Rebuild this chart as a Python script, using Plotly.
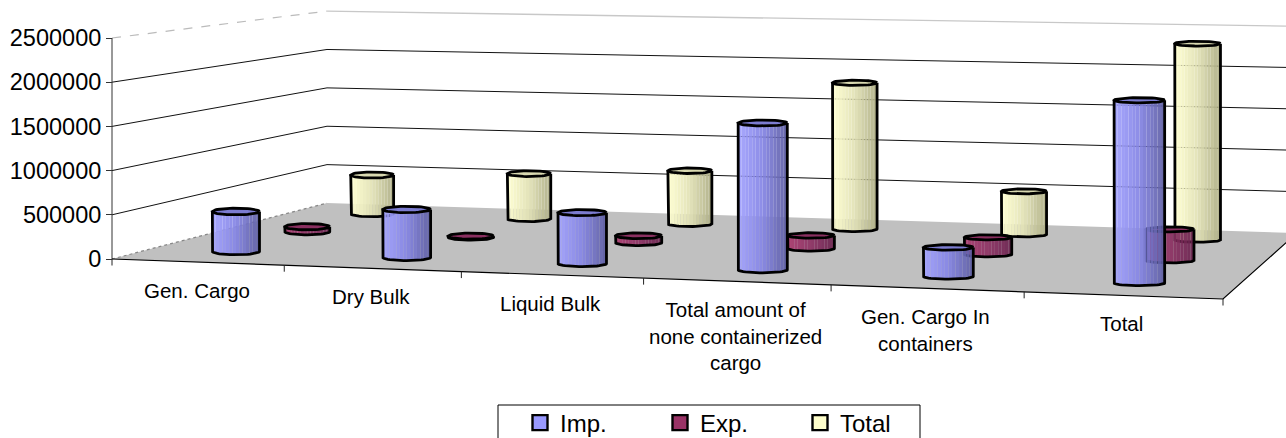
import numpy as np
import plotly.graph_objects as go

categories = ["Gen. Cargo", "Dry Bulk", "Liquid Bulk",
              "Total amount of<br>none containerized<br>cargo",
              "Gen. Cargo In<br>containers", "Total"]
imp_values = [460000, 545000, 571000, 1624000, 316000, 1964000]
exp_values = [60000, 12000, 82000, 151000, 195000, 351000]
total_values = [490000, 563000, 655000, 1783000, 518000, 2332000]
y_ticks = [0, 500000, 1000000, 1500000, 2000000, 2500000]

W, H = 1286, 438
# perspective of the chart box: pixel corners of the floor and wall height
X00, Y00 = 112, 259
X10, Y10 = 1223, 299
X01, Y01 = 327, 203
X11, Y11 = 1297, 233
AXIS_PX = 221
ZMAX = 2500000
S = ZMAX / AXIS_PX

dx1, dx2, sx = X10 - X11, X01 - X11, X00 - X10 + X11 - X01
dy1, dy2, sy = Y10 - Y11, Y01 - Y11, Y00 - Y10 + Y11 - Y01
det = dx1 * dy2 - dx2 * dy1
G = (sx * dy2 - dx2 * sy) / det
K = (dx1 * sy - sx * dy1) / det


def project(u, v, z=0.0):
    w = 1 + G * u + K * v
    xn = X00 + (X10 * (1 + G) - X00) * u + (X01 * (1 + K) - X00) * v
    yn = Y00 + (Y10 * (1 + G) - Y00) * u + (Y01 * (1 + K) - Y00) * v
    return xn / w, (Y00 - yn / w) * S + z / w, w


def line(points, color="#000000", width=1.0, dash="solid"):
    xs, ys = [], []
    for p in points:
        if p is None:
            xs.append(None); ys.append(None)
        else:
            a, b, _ = project(*p)
            xs.append(a); ys.append(b)
    return go.Scatter(x=xs, y=ys, mode="lines", showlegend=False, hoverinfo="skip",
                      line=dict(color=color, width=width, dash=dash))


fig = go.Figure()

# floor
fx, fy = zip(*[project(*c)[:2] for c in [(0, 0), (1, 0), (1, 1), (0, 1), (0, 0)]])
fig.add_trace(go.Scatter(x=fx, y=fy, mode="lines", fill="toself", fillcolor="#C0C0C0",
                         line=dict(width=0), showlegend=False, hoverinfo="skip"))
# wall gridlines
for t in y_ticks[1:-1]:
    fig.add_trace(line([(0, 0, t), (0, 1, t), (1, 1, t)], "#111111", 1.0))
fig.add_trace(line([(0, 0, ZMAX), (0, 1, ZMAX)], "#BBBBBB", 1.2, "dash"))
fig.add_trace(line([(0, 1, ZMAX), (1, 1, ZMAX)], "#C8C8C8", 1.4))
fig.add_trace(line([(0, 0), (0, 1)], "#888888", 1.2, "dot"))
fig.add_trace(line([(0, 0), (0, 0, ZMAX)], "#333333", 1.0))
fig.add_trace(line([(0, 0), (1, 0), (1, 1)], "#000000", 1.2))

# category ticks on the front edge
tx, ty = [], []
for i in range(len(categories) + 1):
    a, b, _ = project(i / len(categories), 0)
    tx += [a, a, None]
    ty += [b, b - 6.5 * S, None]
fig.add_trace(go.Scatter(x=tx, y=ty, mode="lines", showlegend=False, hoverinfo="skip",
                         line=dict(color="#222222", width=1)))

RAMPS = {
    "Imp.": ((162, 162, 255), (132, 132, 228), (92, 92, 160)),
    "Exp.": ((170, 58, 110), (140, 48, 98), (105, 34, 78)),
    "Total": ((255, 255, 208), (225, 225, 180), (172, 172, 132)),
}
CAPS = {"Imp.": "#7C7CD0", "Exp.": "#8A2F60", "Total": "#D8D8B0"}
BASE = {"Imp.": "#9999FF", "Exp.": "#993366", "Total": "#FFFFCC"}
ALPHA = 0.93
BANDS = 14
A_PX, B_PX = 24.0, 3.0


def band_color(name, t):
    c0, c1, c2 = RAMPS[name]
    if t < 0.5:
        c = [c0[k] + (c1[k] - c0[k]) * t * 2 for k in range(3)]
    else:
        c = [c1[k] + (c2[k] - c1[k]) * (t - 0.5) * 2 for k in range(3)]
    return f"rgba({c[0]:.0f},{c[1]:.0f},{c[2]:.0f},{ALPHA})"


def add_series(name, values, depth):
    v = (depth + 0.5) / 3
    n = len(values)
    cyl = []
    for i, val in enumerate(values):
        u = (i + 0.5) / n
        cx, yb, w = project(u, v, 0)
        cyl.append((cx, yb, yb + val / w, A_PX / w, B_PX * (1.15 - 0.35 * u) / w * S))
    # shaded strips
    for j in range(BANDS):
        t0, t1 = -1 + 2 * j / BANDS, -1 + 2 * (j + 1) / BANDS
        xs, ys = [], []
        for cx, yb, yt, a, b in cyl:
            arc0, arc1 = b * np.sqrt(max(1 - t0 ** 2, 0)), b * np.sqrt(max(1 - t1 ** 2, 0))
            xs += [cx + a * t0, cx + a * t1, cx + a * t1, cx + a * t0, cx + a * t0, None]
            ys += [yt - arc0, yt - arc1, yb - arc1, yb - arc0, yt - arc0, None]
        fig.add_trace(go.Scatter(x=xs, y=ys, mode="lines", fill="toself",
                                 fillcolor=band_color(name, (j + 0.5) / BANDS),
                                 line=dict(width=0), showlegend=False, hoverinfo="skip"))
    # cap and outline
    th = np.linspace(0, 2 * np.pi, 49)
    capx, capy, ox, oy = [], [], [], []
    for cx, yb, yt, a, b in cyl:
        ex, ey = cx + a * np.cos(th), b * np.sin(th)
        capx += list(ex) + [None]
        capy += list(yt + ey) + [None]
        half = np.linspace(np.pi, 2 * np.pi, 25)
        ox += [cx - a] + list(cx + a * np.cos(half)) + [cx + a, None] + list(ex) + [None]
        oy += [yt] + list(yb + b * np.sin(half)) + [yt, None] + list(yt + ey) + [None]
    fig.add_trace(go.Scatter(x=capx, y=capy, mode="lines", fill="toself", fillcolor=CAPS[name],
                             line=dict(width=0), showlegend=False, hoverinfo="skip"))
    fig.add_trace(go.Scatter(x=ox, y=oy, mode="lines", showlegend=False, hoverinfo="skip",
                             line=dict(color="#000000", width=2.8)))


add_series("Total", total_values, 2)
add_series("Exp.", exp_values, 1)
add_series("Imp.", imp_values, 0)

# legend entries
for name in ["Imp.", "Exp.", "Total"]:
    fig.add_trace(go.Scatter(x=[None], y=[None], mode="markers", name=name,
                             marker=dict(symbol="square", size=15, color=BASE[name],
                                         line=dict(color="#000000", width=2.4))))

# category labels
annotations = []
for i, c in enumerate(categories):
    a, b, _ = project((i + 0.5) / len(categories), 0)
    annotations.append(dict(x=a - 1, y=b, xref="x", yref="y", text=c, showarrow=False,
                            xanchor="center", yanchor="top", yshift=-15,
                            font=dict(family="Liberation Sans", size=20.5, color="#000000")))

fig.update_layout(
    width=W, height=H, margin=dict(l=0, r=0, t=0, b=0, autoexpand=False),
    paper_bgcolor="#FFFFFF", plot_bgcolor="#FFFFFF", hovermode=False,
    annotations=annotations,
    shapes=[dict(type="rect", xref="paper", yref="paper", x0=498 / W, x1=920 / W,
                 y0=-0.05, y1=1 - 405 / H, line=dict(color="#000000", width=1))],
    xaxis=dict(range=[0, W], visible=False, fixedrange=True),
    yaxis=dict(range=[(Y00 - H) * S, Y00 * S], anchor="free", position=X00 / W,
               tickmode="array", tickvals=y_ticks, ticktext=[str(t) for t in y_ticks],
               ticks="outside", ticklen=6, tickcolor="#333333", showgrid=False,
               zeroline=False, showline=False, fixedrange=True,
               tickfont=dict(family="Liberation Sans", size=23.5, color="#000000")),
    legend=dict(orientation="h", x=520 / W, xanchor="left", y=1 - 423 / H, yanchor="middle",
                bgcolor="rgba(0,0,0,0)", borderwidth=0,
                entrywidth=95, entrywidthmode="pixels",
                font=dict(family="Liberation Sans", size=24, color="#000000")),
)
fig.write_html("out.html", config={"displayModeBar": False},
               post_script="document.body.style.margin='0';")
